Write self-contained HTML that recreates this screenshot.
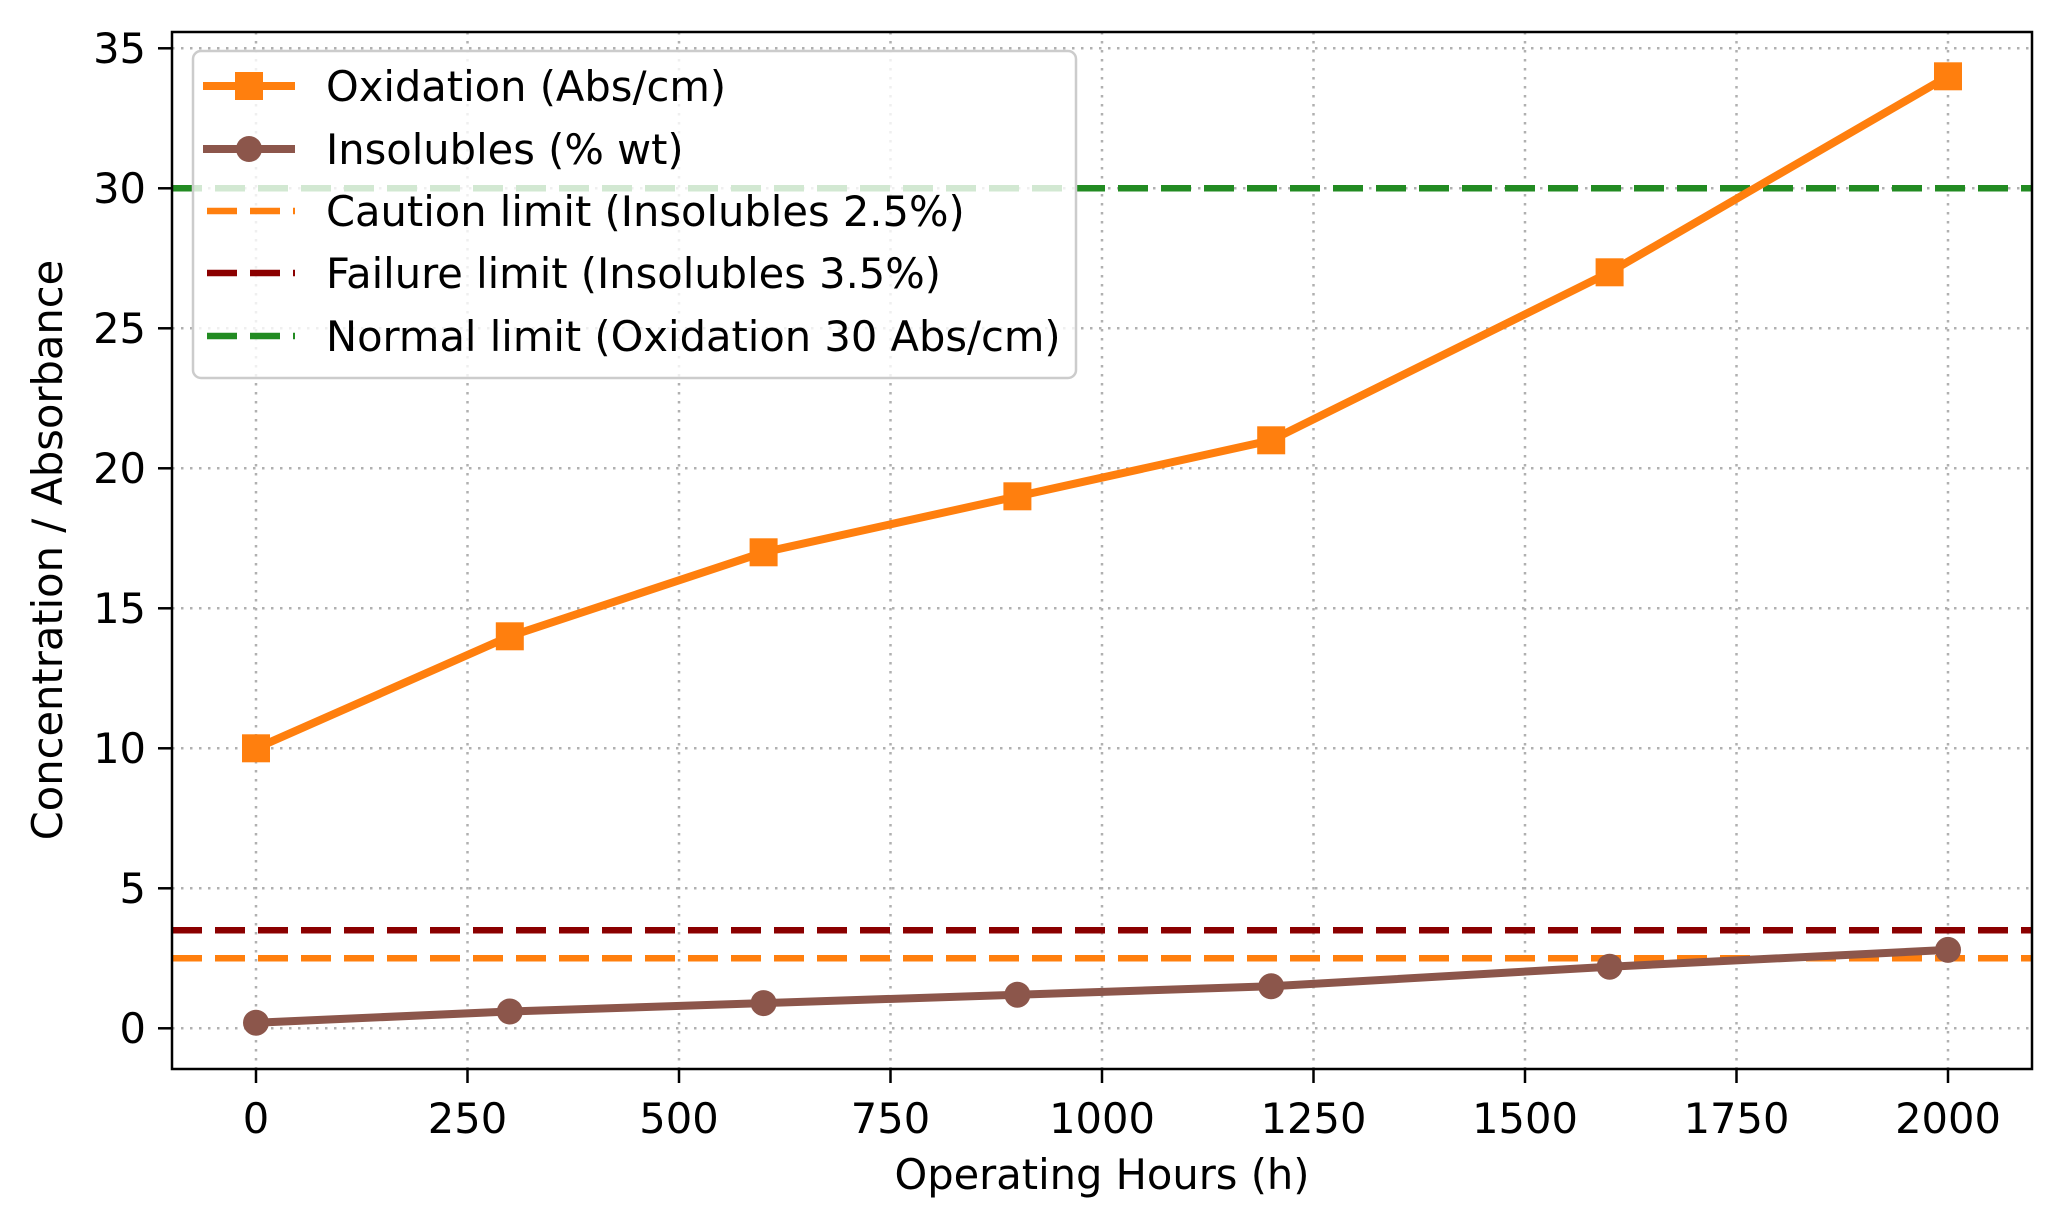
<!DOCTYPE html>
<html><head><meta charset="utf-8"><style>
html,body{margin:0;padding:0;background:#fff}
svg{display:block}
text{font-family:"DejaVu Sans","Liberation Sans",sans-serif;fill:#000}
</style></head><body>
<svg width="2060" height="1229" viewBox="0 0 2060 1229" xmlns="http://www.w3.org/2000/svg">
<rect width="2060" height="1229" fill="#fff"/>
<g stroke="#b0b0b0" stroke-width="2.5" stroke-dasharray="2.5 6.5">
<line x1="256" y1="32" x2="256" y2="1069"/><line x1="467.5" y1="32" x2="467.5" y2="1069"/>
<line x1="679" y1="32" x2="679" y2="1069"/><line x1="890.5" y1="32" x2="890.5" y2="1069"/>
<line x1="1102" y1="32" x2="1102" y2="1069"/><line x1="1313.5" y1="32" x2="1313.5" y2="1069"/>
<line x1="1525" y1="32" x2="1525" y2="1069"/><line x1="1736.5" y1="32" x2="1736.5" y2="1069"/>
<line x1="1948" y1="32" x2="1948" y2="1069"/>
<line x1="172" y1="1028.3" x2="2032" y2="1028.3"/><line x1="172" y1="888.3" x2="2032" y2="888.3"/>
<line x1="172" y1="748.3" x2="2032" y2="748.3"/><line x1="172" y1="608.3" x2="2032" y2="608.3"/>
<line x1="172" y1="468.3" x2="2032" y2="468.3"/><line x1="172" y1="328.3" x2="2032" y2="328.3"/>
<line x1="172" y1="188.3" x2="2032" y2="188.3"/><line x1="172" y1="48.3" x2="2032" y2="48.3"/>
</g>
<g stroke-width="6.5" stroke-dasharray="30 13" fill="none">
<line x1="172" y1="958.3" x2="2032" y2="958.3" stroke="#ff7f0e"/>
<line x1="172" y1="930.3" x2="2032" y2="930.3" stroke="#8b0000"/>
<line x1="172" y1="188.3" x2="2032" y2="188.3" stroke="#228b22"/>
</g>
<polyline fill="none" stroke="#ff7f0e" stroke-width="8" stroke-linejoin="round"
points="256,748.3 509.8,636.3 763.6,552.3 1017.4,496.3 1271.2,440.3 1609.6,272.3 1948,76.3"/>
<g fill="#ff7f0e">
<rect x="242" y="734.3" width="28" height="28"/><rect x="495.8" y="622.3" width="28" height="28"/>
<rect x="749.6" y="538.3" width="28" height="28"/><rect x="1003.4" y="482.3" width="28" height="28"/>
<rect x="1257.2" y="426.3" width="28" height="28"/><rect x="1595.6" y="258.3" width="28" height="28"/>
<rect x="1934" y="62.3" width="28" height="28"/>
</g>
<polyline fill="none" stroke="#8c564b" stroke-width="8" stroke-linejoin="round"
points="256,1022.7 509.8,1011.5 763.6,1003.1 1017.4,994.7 1271.2,986.3 1609.6,966.7 1948,949.9"/>
<g fill="#8c564b">
<circle cx="256" cy="1022.7" r="13"/><circle cx="509.8" cy="1011.5" r="13"/>
<circle cx="763.6" cy="1003.1" r="13"/><circle cx="1017.4" cy="994.7" r="13"/>
<circle cx="1271.2" cy="986.3" r="13"/><circle cx="1609.6" cy="966.7" r="13"/>
<circle cx="1948" cy="949.9" r="13"/>
</g>
<rect x="193" y="51" width="883" height="327" rx="8" fill="#fff" fill-opacity="0.8" stroke="#cccccc" stroke-width="2.5"/>
<line x1="203" y1="86" x2="295" y2="86" stroke="#ff7f0e" stroke-width="8"/>
<rect x="235" y="72" width="28" height="28" fill="#ff7f0e"/>
<line x1="203" y1="149" x2="295" y2="149" stroke="#8c564b" stroke-width="8"/>
<circle cx="249" cy="149" r="13" fill="#8c564b"/>
<line x1="207" y1="211" x2="295" y2="211" stroke="#ff7f0e" stroke-width="6.5" stroke-dasharray="30 13"/>
<line x1="207" y1="273" x2="295" y2="273" stroke="#8b0000" stroke-width="6.5" stroke-dasharray="30 13"/>
<line x1="207" y1="336" x2="295" y2="336" stroke="#228b22" stroke-width="6.5" stroke-dasharray="30 13"/>
<g font-size="41.6">
<text x="326" y="101">Oxidation (Abs/cm)</text>
<text x="326" y="164">Insolubles (% wt)</text>
<text x="326" y="226">Caution limit (Insolubles 2.5%)</text>
<text x="326" y="288">Failure limit (Insolubles 3.5%)</text>
<text x="326" y="351">Normal limit (Oxidation 30 Abs/cm)</text>
</g>
<rect x="172" y="32" width="1860" height="1037" fill="none" stroke="#000" stroke-width="2.5"/>
<g stroke="#000" stroke-width="2.5">
<line x1="158" y1="1028.3" x2="172" y2="1028.3"/><line x1="158" y1="888.3" x2="172" y2="888.3"/>
<line x1="158" y1="748.3" x2="172" y2="748.3"/><line x1="158" y1="608.3" x2="172" y2="608.3"/>
<line x1="158" y1="468.3" x2="172" y2="468.3"/><line x1="158" y1="328.3" x2="172" y2="328.3"/>
<line x1="158" y1="188.3" x2="172" y2="188.3"/><line x1="158" y1="48.3" x2="172" y2="48.3"/>
<line x1="256" y1="1069" x2="256" y2="1083"/><line x1="467.5" y1="1069" x2="467.5" y2="1083"/>
<line x1="679" y1="1069" x2="679" y2="1083"/><line x1="890.5" y1="1069" x2="890.5" y2="1083"/>
<line x1="1102" y1="1069" x2="1102" y2="1083"/><line x1="1313.5" y1="1069" x2="1313.5" y2="1083"/>
<line x1="1525" y1="1069" x2="1525" y2="1083"/><line x1="1736.5" y1="1069" x2="1736.5" y2="1083"/>
<line x1="1948" y1="1069" x2="1948" y2="1083"/>
</g>
<g font-size="41.6" text-anchor="end">
<text x="146" y="1043">0</text><text x="146" y="903">5</text><text x="146" y="763">10</text>
<text x="146" y="623">15</text><text x="146" y="483">20</text><text x="146" y="343">25</text>
<text x="146" y="203">30</text><text x="146" y="63">35</text>
</g>
<g font-size="41.6" text-anchor="middle">
<text x="256" y="1133">0</text><text x="467.5" y="1133">250</text><text x="679" y="1133">500</text>
<text x="890.5" y="1133">750</text><text x="1102" y="1133">1000</text><text x="1313.5" y="1133">1250</text>
<text x="1525" y="1133">1500</text><text x="1736.5" y="1133">1750</text><text x="1948" y="1133">2000</text>
<text x="1102" y="1189">Operating Hours (h)</text>
<text transform="translate(62,550) rotate(-90)">Concentration / Absorbance</text>
</g>
</svg>
</body></html>
